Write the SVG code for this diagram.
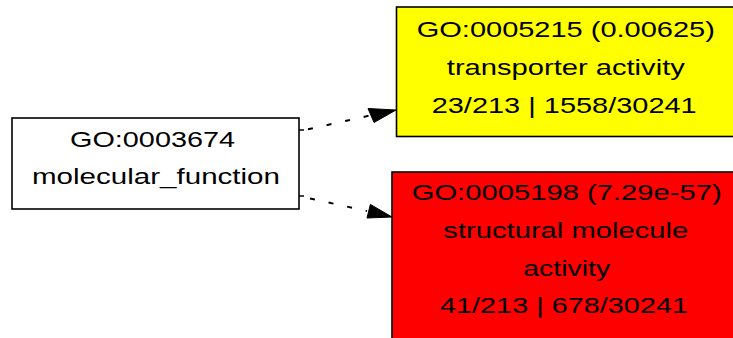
<svg xmlns="http://www.w3.org/2000/svg" width="733" height="338" viewBox="0 0 733 338">
<style>
.box{stroke:#000;stroke-width:1.6}
.t{font-family:"Liberation Sans",Arial,Helvetica,sans-serif;font-size:22px;fill:#000;text-anchor:middle}
.edge{fill:none;stroke:#000;stroke-width:2;stroke-dasharray:5 14}
.tick{fill:none;stroke:#000;stroke-width:1.5}
.head{fill:#000;stroke:#000;stroke-width:1}
</style>
<rect width="733" height="338" fill="#fff"/>
<g id="connectors">
<path class="tick" d="M299,130 h5"/>
<path class="edge" d="M308,129.3 L370,115.5"/>
<polygon class="head" points="368,108.5 374,122.5 396,110"/>
<path class="tick" d="M299,196 h5"/>
<path class="edge" d="M310,198.5 L367,211"/>
<polygon class="head" points="370.4,204.4 367,218 392,217"/>
</g>
<g id="GO0003674">
<rect class="box" x="12" y="118" width="287" height="91" fill="#fff"/>
<text class="t" x="152.5" y="146.7" textLength="165" lengthAdjust="spacingAndGlyphs">GO:0003674</text>
<text class="t" x="156" y="184" textLength="248" lengthAdjust="spacingAndGlyphs">molecular_function</text>
</g>
<g id="GO0005215">
<rect class="box" x="396.5" y="7" width="345" height="129.5" fill="#ffff00"/>
<text class="t" x="565.8" y="36.7" textLength="298" lengthAdjust="spacingAndGlyphs">GO:0005215 (0.00625)</text>
<text class="t" x="565.8" y="75" textLength="238" lengthAdjust="spacingAndGlyphs">transporter activity</text>
<text class="t" x="564.2" y="112.7" textLength="265" lengthAdjust="spacingAndGlyphs">23/213 | 1558/30241</text>
</g>
<g id="GO0005198">
<rect class="box" x="392" y="172" width="350" height="180" fill="#ff0000"/>
<text class="t" x="566.7" y="200" textLength="310" lengthAdjust="spacingAndGlyphs">GO:0005198 (7.29e-57)</text>
<text class="t" x="565.8" y="238" textLength="245" lengthAdjust="spacingAndGlyphs">structural molecule</text>
<text class="t" x="566.7" y="275.5" textLength="87" lengthAdjust="spacingAndGlyphs">activity</text>
<text class="t" x="564" y="313" textLength="248" lengthAdjust="spacingAndGlyphs">41/213 | 678/30241</text>
</g>
</svg>
